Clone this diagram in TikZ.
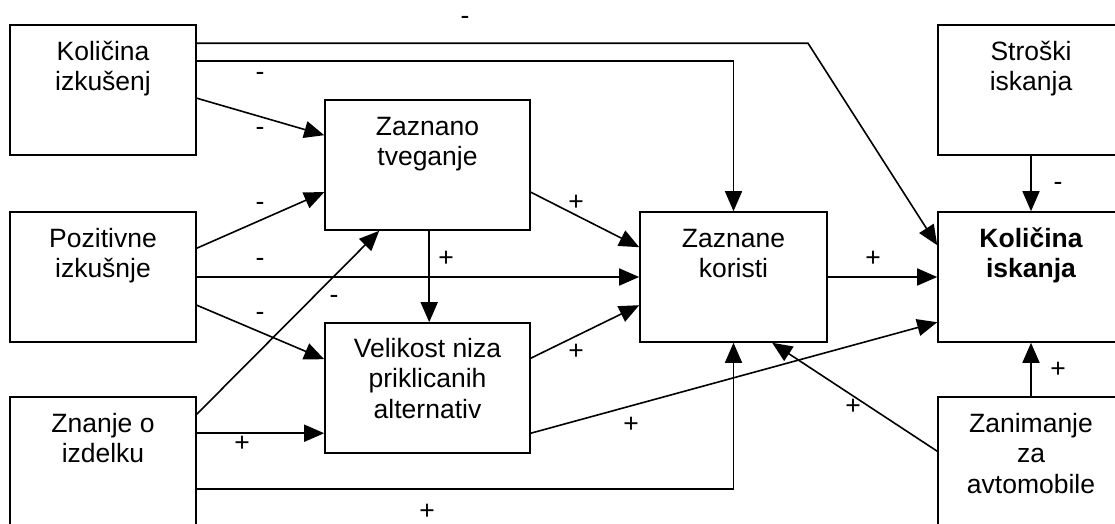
\documentclass[tikz,border=0pt]{standalone}
\usepackage{fontspec}
\setmainfont{Liberation Sans}
\usetikzlibrary{arrows.meta,calc}
\begin{document}
\begin{tikzpicture}[x=1pt,y=-1pt,
  box/.style={draw, line width=1.6pt, rectangle, minimum height=130pt, inner sep=0pt},
  std/.style={box, minimum width=186pt},
  wide/.style={box, minimum width=205pt},
  txt/.style={anchor=north, align=center, inner sep=0pt, font=\fontsize{26.5}{30.5}\selectfont},
  arr/.style={line width=1.6pt, -{Triangle[length=20pt,width=17pt]}},
  sgn/.style={anchor=base, inner sep=0pt, font=\fontsize{26.5}{30.5}\selectfont}]
\useasboundingbox (0,0) rectangle (1115,523);
\clip (0,0) rectangle (1115,523);

% boxes
\node[std]  (ki)  at (103,90)    {};
\node[std]  (pi)  at (103,277)   {};
\node[std]  (zi)  at (103,462)   {};
\node[wide] (zt)  at (427.5,165) {};
\node[wide] (vn)  at (427.5,388) {};
\node[box, minimum width=187pt] (zk) at (733.5,277) {};
\node[std]  (si)  at (1031,90)   {};
\node[std]  (kis) at (1031,277)  {};
\node[std]  (za)  at (1031,462)  {};

% box texts
\node[txt] (ki-t)  at ($(ki.north)+(0,15)$)  {\rule{0pt}{21pt}Količina\\izkušenj};
\node[txt] (pi-t)  at ($(pi.north)+(0,15)$)  {\rule{0pt}{21pt}Pozitivne\\izkušnje};
\node[txt] (zi-t)  at ($(zi.north)+(0,15)$)  {\rule{0pt}{21pt}Znanje o\\izdelku};
\node[txt] (zt-t)  at ($(zt.north)+(0,15)$)  {\rule{0pt}{21pt}Zaznano\\tveganje};
\node[txt] (vn-t)  at ($(vn.north)+(0,14)$)  {\rule{0pt}{21pt}Velikost niza\\priklicanih\\alternativ};
\node[txt] (zk-t)  at ($(zk.north)+(0,15)$)  {\rule{0pt}{21pt}Zaznane\\koristi};
\node[txt] (si-t)  at ($(si.north)+(0,15)$)  {\rule{0pt}{21pt}Stroški\\iskanja};
\node[txt] (kis-t) at ($(kis.north)+(0,15)$) {\rule{0pt}{21pt}\bfseries Količina\\\bfseries iskanja};
\node[txt] (za-t)  at ($(za.north)+(0,15)$)  {\rule{0pt}{21pt}Zanimanje\\za\\avtomobile};

% connectors
\coordinate (k1) at ($(ki.north east)+(0,19)$);
\coordinate (bx) at (808,0);
\coordinate (bend) at (k1 -| bx);
\draw[arr] (k1) -- (bend) -- ($(kis.north west)+(0,34)$);
\draw[arr] ($(ki.north east)+(0,37)$) -| (zk.north);
\draw[arr] ($(ki.north east)+(0,74)$) -- ($(zt.north west)+(0,36)$);
\draw[arr] ($(pi.north east)+(0,37)$) -- ($(zt.north west)+(0,93)$);
\draw[arr] (pi.east) -- (zk.west);
\draw[arr] ($(pi.north east)+(0,94)$) -- ($(vn.north west)+(0,37)$);
\draw[arr] ($(zi.north east)+(0,18)$) -- ($(zt.south west)+(55,0)$);
\draw[arr] ($(zi.north east)+(0,37)$) -- ($(vn.north west)+(0,111)$);
\draw[arr] ($(zi.north east)+(0,93)$) -| (zk.south);
\draw[arr] ($(zt.south west)+(105,0)$) -- ($(vn.north west)+(105,0)$);
\draw[arr] ($(zt.north east)+(0,93)$) -- ($(zk.north west)+(0,36)$);
\draw[arr] ($(vn.north east)+(0,36)$) -- ($(zk.north west)+(0,94)$);
\draw[arr] ($(vn.north east)+(0,111)$) -- ($(kis.north west)+(0,111)$);
\draw[arr] (zk.east) -- (kis.west);
\draw[arr] (si.south) -- (kis.north);
\draw[arr] (za.north) -- (kis.south);
\draw[arr] ($(za.north west)+(0,55)$) -- ($(zk.south west)+(133,0)$);

% signs
\node[sgn] (s1)  at (465,24)   {-};
\node[sgn] (s2)  at (260,80)   {-};
\node[sgn] (s3)  at (260,135)  {-};
\node[sgn] (s4)  at (260,210)  {-};
\node[sgn] (s5)  at (260,266)  {-};
\node[sgn] (s6)  at (260,320)  {-};
\node[sgn] (s7)  at (334,303)  {-};
\node[sgn] (s8)  at (242,451)  {+};
\node[sgn] (s9)  at (427,519)  {+};
\node[sgn] (s10) at (446,266)  {+};
\node[sgn] (s11) at (576,210)  {+};
\node[sgn] (s12) at (576,359)  {+};
\node[sgn] (s13) at (631,432)  {+};
\node[sgn] (s14) at (873,266)  {+};
\node[sgn] (s15) at (1058,190) {-};
\node[sgn] (s16) at (1058,377) {+};
\node[sgn] (s17) at (853,414)  {+};
\end{tikzpicture}
\end{document}
